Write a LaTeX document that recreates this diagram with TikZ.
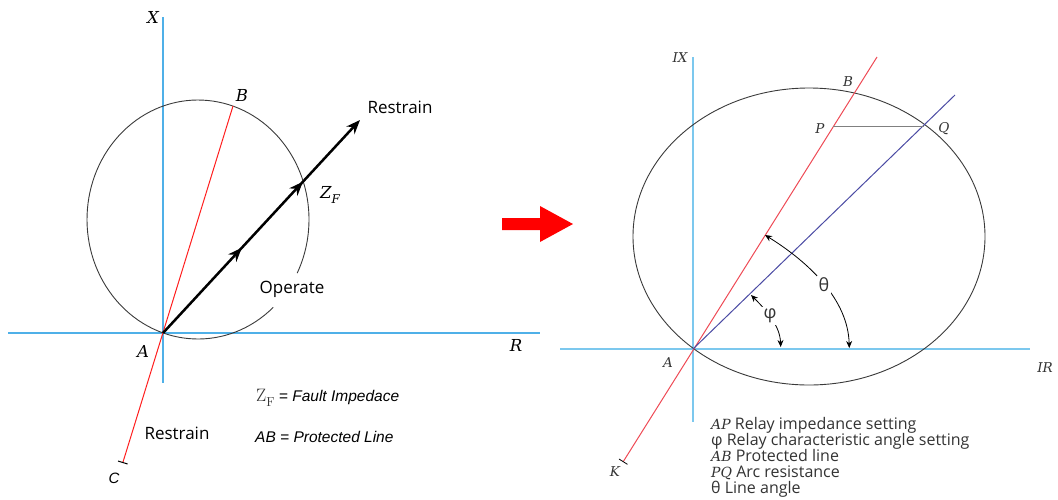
\documentclass[tikz,border=0pt]{standalone}
\usepackage{fontspec}
\newfontfamily\osans{Open Sans}
\newfontfamily\arial{Liberation Sans}
\newfontfamily\dser{DejaVu Serif}
\usetikzlibrary{arrows.meta,decorations.markings}
\definecolor{axL}{HTML}{4FB0E8}
\definecolor{axR}{HTML}{7CC8EE}
\definecolor{redL}{HTML}{FF1E1E}
\definecolor{redR}{HTML}{EE4A55}
\definecolor{purp}{HTML}{4B4BA3}
\definecolor{ell}{HTML}{3A3A3A}
\definecolor{txt}{HTML}{333333}
\begin{document}
\begin{tikzpicture}[x=1pt,y=1pt,yscale=-1,
  axisL/.style={draw=axL,line width=1.6pt},
  axisR/.style={draw=axR,line width=1.6pt},
  lblL/.style={font=\dser\itshape\fontsize{16.5}{16.5}\selectfont,inner sep=0pt},
  lblR/.style={font=\dser\itshape\fontsize{13.5}{13.5}\selectfont,text=txt,inner sep=0pt},
  sanslbl/.style={font=\osans\fontsize{17}{17}\selectfont,inner sep=0pt},
  legR/.style={font=\osans\fontsize{16}{16}\selectfont,text=txt,anchor=base west,inner sep=0pt},
  legL/.style={font=\arial\itshape\fontsize{15.5}{15.5}\selectfont,anchor=base west,inner sep=0pt},
  bigtip/.style={-{Stealth[length=14pt,width=11pt]}},
  angtip/.style={{Stealth[length=7pt,width=6pt]}-{Stealth[length=7pt,width=6pt]}}
]
\useasboundingbox (0,0) rectangle (1058,499);

% ---------------- left panel ----------------
\coordinate (A1) at (163,333);
\coordinate (B1) at (233,106);
\coordinate (C1) at (122.7,463);
\coordinate (T1) at (360,120);
\coordinate (xt1) at (163,17);
\coordinate (xb1) at (163,383);
\coordinate (rl1) at (8,333);
\coordinate (rr1) at (540,333);
\coordinate (O1) at (198,219.5);

\draw[axisL] (xt1) -- (xb1);
\draw[axisL] (rl1) -- (rr1);
\draw[line width=0.9pt,draw=ell] ([shift={(47.3:111 and 119.5)}]O1)
   arc[start angle=47.3,end angle=386.7,x radius=111,y radius=119.5];
\draw[redL,line width=1pt,-{Bar[width=10pt,color=black,line width=1pt]}] (B1) -- (C1);
\draw[line width=2.5pt,bigtip,postaction={decorate},
  decoration={markings,
    mark=at position 0.40 with {\arrow{Stealth[length=14pt,width=11pt]}},
    mark=at position 0.71 with {\arrow{Stealth[length=14pt,width=11pt]}}}]
  (A1) -- (T1);

\node[lblL] (lX) at (153,17) {X};
\node[lblL] (lB) at (242,95) {B};
\node[lblL] (lA) at (143,351) {A};
\node[lblL] (lR) at (516,345) {R};
\node[font=\arial\itshape\fontsize{15}{15}\selectfont,inner sep=0pt] (lC) at (114,478) {C};
\node[lblL] (lZ) at (330,195) {Z\raisebox{-0.3em}{\fontsize{12}{12}\selectfont F}};
\node[sanslbl] (rs1) at (400,107) {Restrain};
\node[sanslbl] (op1) at (292,289) {Operate};
\node[sanslbl] (rs2) at (177,433) {Restrain};
\node[legL] (lg1) at (256,401) {{\upshape\fontsize{18}{18}\selectfont\color{txt}{\rmfamily Z\raisebox{-0.3em}{\fontsize{13}{13}\selectfont F}}} = Fault Impedace};
\node[legL] (lg2) at (255,442) {AB = Protected Line};

% ---------------- middle arrow ----------------
\fill[red] (502,218) -- (540,218) -- (540,206) -- (573,224) -- (540,242) -- (540,230) -- (502,230) -- cycle;

% ---------------- right panel ----------------
\coordinate (A2) at (693,349);
\coordinate (xt2) at (693,57);
\coordinate (xb2) at (693,422);
\coordinate (rl2) at (560,349);
\coordinate (rr2) at (1030,349);
\coordinate (Rt2) at (877,57);
\coordinate (K2) at (623,462);
\coordinate (Bt2) at (955,95);
\coordinate (P2) at (833,126.5);
\coordinate (Q2) at (924,126.5);
\coordinate (O2) at (809,236.5);

\draw[axisR] (xt2) -- (xb2);
\draw[axisR] (rl2) -- (rr2);
\draw[line width=0.9pt,draw=ell] (O2) ellipse [x radius=176,y radius=148.5];
\draw[redR,line width=1pt,-{Bar[width=10pt,color=black,line width=0.8pt]}] (Rt2) -- (K2);
\draw[purp,line width=1pt] (A2) -- (Bt2);
\draw[gray,line width=0.9pt] (P2) -- (Q2);

\coordinate (th1) at (849.3,348);
\coordinate (th2) at (765,235);
\coordinate (ph1) at (780.7,347);
\coordinate (ph2) at (751,295);
\draw[line width=0.8pt,angtip] (th1) .. controls (848,300) and (810,263) .. (th2);
\draw[line width=0.8pt,angtip] (ph1) .. controls (780,325) and (765,309) .. (ph2);
\node[font=\osans\fontsize{18}{18}\selectfont,fill=white,inner sep=2pt,text=txt] (lth) at (824,285) {θ};
\node[font=\osans\fontsize{18}{18}\selectfont,fill=white,inner sep=2pt,text=txt] (lph) at (770,316) {φ};

\node[lblR] (rIX) at (680,58) {IX};
\node[lblR] (rB) at (848,82) {B};
\node[lblR] (rP) at (820,129) {P};
\node[lblR] (rQ) at (944,129) {Q};
\node[lblR] (rA) at (668,363) {A};
\node[lblR] (rIR) at (1045,368) {IR};
\node[lblR] (rK) at (615,472) {K};

\node[legR] (r1) at (711,429) {{\dser\itshape\fontsize{14}{14}\selectfont AP} Relay impedance setting};
\node[legR] (r2) at (711,445) {φ Relay characteristic angle setting};
\node[legR] (r3) at (711,461) {{\dser\itshape\fontsize{14}{14}\selectfont AB} Protected line};
\node[legR] (r4) at (711,477) {{\dser\itshape\fontsize{14}{14}\selectfont PQ} Arc resistance};
\node[legR] (r5) at (711,493) {θ Line angle};
\end{tikzpicture}
\end{document}
